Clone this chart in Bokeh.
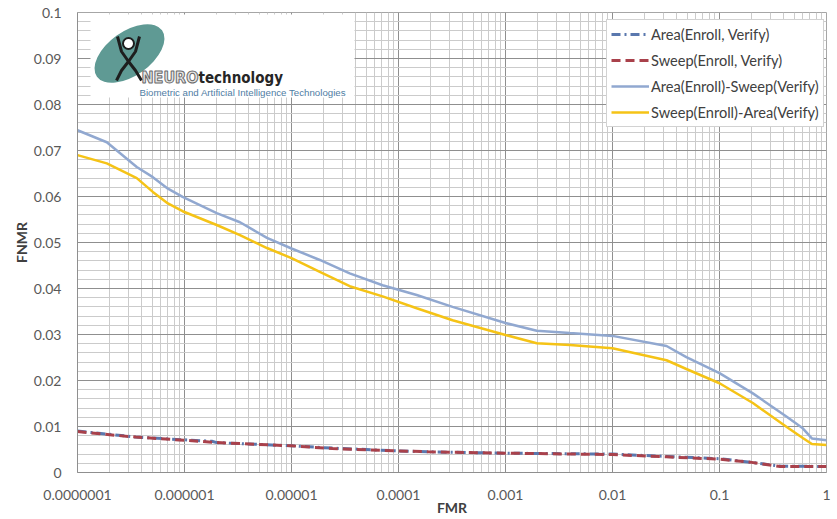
from bokeh.plotting import figure
from bokeh.models import (Range1d, FixedTicker, CustomJSTickFormatter, Legend, LegendItem)
from bokeh.core.properties import value
from bokeh.embed import file_html
from bokeh.resources import INLINE

# ---------------- data ----------------
fmr_solid = [1e-7, 1.88e-7, 3.58e-7, 5.06e-7, 7.0e-7, 9.6e-7, 2.0e-6, 3.3e-6, 5.9e-6,
             1e-5, 1.84e-5, 3.5e-5, 7.1e-5, 1.48e-4, 3.2e-4, 1e-3, 1.96e-3, 4.0e-3,
             1e-2, 0.032, 0.049, 0.1, 0.205, 0.425, 0.60, 0.73, 1.0]
fnmr_area_sweep = [0.0744, 0.0718, 0.0664, 0.0642, 0.0617, 0.0599, 0.0564, 0.0544, 0.0510,
                   0.0487, 0.0462, 0.0433, 0.0407, 0.0386, 0.0360, 0.0325, 0.0308, 0.0303,
                   0.0297, 0.0275, 0.0251, 0.0216, 0.0172, 0.0121, 0.0096, 0.0074, 0.0070]
fnmr_sweep_area = [0.0690, 0.0672, 0.0640, 0.0610, 0.0585, 0.0568, 0.0538, 0.0516, 0.0488,
                   0.0466, 0.0436, 0.0405, 0.0383, 0.0357, 0.0331, 0.0299, 0.0281, 0.0277,
                   0.0270, 0.0244, 0.0225, 0.0194, 0.0151, 0.0099, 0.0075, 0.0062, 0.0060]

fmr_dashed = [1e-7, 2e-7, 3.5e-7, 1e-6, 1.8e-6, 2e-6, 1e-5, 2.4e-5, 1e-4, 1.9e-4,
              1e-3, 1e-2, 0.032, 0.1, 0.2, 0.37, 1.0]
fnmr_area = [0.0090, 0.0083, 0.0077, 0.0071, 0.0068, 0.0065, 0.0058, 0.0053, 0.0047, 0.0045,
             0.0042, 0.0040, 0.0035, 0.0030, 0.0022, 0.0014, 0.0013]
fnmr_sweep = [0.0089, 0.0082, 0.0077, 0.0070, 0.0066, 0.0065, 0.0058, 0.0052, 0.0047, 0.0045,
              0.0042, 0.0039, 0.0034, 0.0029, 0.0022, 0.0013, 0.0013]

x_ticks = [1e-7, 1e-6, 1e-5, 1e-4, 1e-3, 1e-2, 1e-1, 1.0]
y_ticks = [0.0, 0.01, 0.02, 0.03, 0.04, 0.05, 0.06, 0.07, 0.08, 0.09, 0.1]

series_names = ["Area(Enroll, Verify)", "Sweep(Enroll, Verify)",
                "Area(Enroll)-Sweep(Verify)", "Sweep(Enroll)-Area(Verify)"]

# ---------------- figure ----------------
p = figure(width=837, height=519, x_axis_type="log",
           x_range=Range1d(1e-7, 1.0), y_range=Range1d(0, 0.1),
           output_backend="svg", toolbar_location=None,
           min_border_left=77, min_border_right=11, min_border_top=12, min_border_bottom=47)
p.background_fill_color = "white"
p.border_fill_color = "white"
p.outline_line_color = "#a6a6a6"

x_minor = [m * 10 ** e for e in range(-7, 0) for m in range(2, 10)]
y_minor = [i * 0.002 for i in range(51)]
p.xaxis.ticker = FixedTicker(ticks=x_ticks, minor_ticks=x_minor)
p.yaxis.ticker = FixedTicker(ticks=y_ticks, minor_ticks=y_minor)
p.xaxis.formatter = CustomJSTickFormatter(code="""
    const e = Math.round(Math.log10(tick));
    if (e >= 0) return String(Math.round(tick));
    return "0." + "0".repeat(-e - 1) + "1";
""")
p.yaxis.formatter = CustomJSTickFormatter(code="return String(parseFloat(tick.toFixed(2)));")

for g in (p.xgrid, p.ygrid):
    g.grid_line_color = "#8f8f8f"
    g.grid_line_width = 1
    g.minor_grid_line_color = "#cbcbcb"
    g.minor_grid_line_width = 1

for ax in (p.xaxis, p.yaxis):
    ax.axis_line_color = "#8f8f8f"
    ax.major_tick_line_color = None
    ax.minor_tick_line_color = None
    ax.major_label_text_font = "Lato"
    ax.major_label_text_font_size = "14px"
    ax.major_label_text_color = "#595959"
    ax.axis_label_text_font = "Lato"
    ax.axis_label_text_font_style = "bold"
    ax.axis_label_text_font_size = "14px"
    ax.axis_label_text_color = "#404040"

p.xaxis.axis_label = "FMR"
p.yaxis.axis_label = "FNMR"
p.xaxis.major_label_standoff = 11
p.xaxis.axis_label_standoff = -4
p.yaxis.major_label_standoff = 10
p.yaxis.axis_label_standoff = 1

# ---------------- decoration helpers (screen pixels -> data) ----------------
X0, DEC, Y0, YS = 77.0, 107.0, 472.0, 4600.0
def dx(px):
    return 10 ** (-7 + (px - X0) / DEC)
def dy(py):
    return (Y0 - py) / YS

# ---------------- logo ----------------
cond = value("'DejaVu Sans Condensed', 'DejaVu Sans', sans-serif")
p.quad(left=[dx(90)], right=[dx(354)], top=[dy(14)], bottom=[dy(97)],
       fill_color="white", line_color=None)
p.ellipse(x=[dx(129)], y=[dy(53)], width=80, height=44, angle=0.62,
          width_units="screen", height_units="screen",
          fill_color="#5f9a94", line_color=None)
p.multi_line(xs=[[dx(117), dx(121), dx(128), dx(135), dx(139)],
                 [dx(128), dx(121), dx(116)],
                 [dx(128), dx(135), dx(141)]],
             ys=[[dy(36), dy(51), dy(61), dy(51), dy(36)],
                 [dy(61), dy(70), dy(80)],
                 [dy(61), dy(70), dy(80)]],
             line_color="#1e1e1e", line_width=3)
p.scatter(x=[dx(128)], y=[dy(43)], size=11, marker="circle",
          fill_color="white", line_color="#1e1e1e", line_width=2)
p.text(x=[dx(141)], y=[dy(77)], text=["NEURO"], text_font=cond,
       text_font_style="bold", text_font_size="16px", text_color="#e6e6e6",
       text_outline_color="#6b6b6b", text_baseline="alphabetic")
p.text(x=[dx(198)], y=[dy(77)], text=["technology"], text_font=cond,
       text_font_style="bold", text_font_size="15px", text_color="#262626",
       text_baseline="alphabetic")
p.text(x=[dx(139)], y=[dy(92)], text=["Biometric and Artificial Intelligence Technologies"],
       text_font=value("Liberation Sans"), text_font_size="9.7px",
       text_color="#4f7da3", text_baseline="alphabetic")

# ---------------- series ----------------
r_area = p.line(fmr_dashed, fnmr_area, line_color="#5a78ae", line_width=3,
                line_dash="9 4 2 4")
r_sweep = p.line(fmr_dashed, fnmr_sweep, line_color="#a9414b", line_width=3,
                 line_dash="9 5")
r_as = p.line(fmr_solid, fnmr_area_sweep, line_color="#91a8d0", line_width=2.5)
r_sa = p.line(fmr_solid, fnmr_sweep_area, line_color="#f5c316", line_width=2.5)

legend = Legend(items=[LegendItem(label=series_names[0], renderers=[r_area]),
                       LegendItem(label=series_names[1], renderers=[r_sweep]),
                       LegendItem(label=series_names[2], renderers=[r_as]),
                       LegendItem(label=series_names[3], renderers=[r_sa])],
                location=(529, 345))
legend.label_text_font = "Lato"
legend.label_text_font_size = "14.6px"
legend.label_text_color = "#404040"
legend.glyph_width = 38
legend.glyph_height = 20
legend.label_height = 20
legend.label_standoff = 2
legend.spacing = 6
legend.padding = 4
legend.margin = 0
legend.border_line_color = "#a6a6a6"
legend.background_fill_alpha = 1.0
p.add_layout(legend)

open("out.html", "w").write(file_html(p, INLINE))
